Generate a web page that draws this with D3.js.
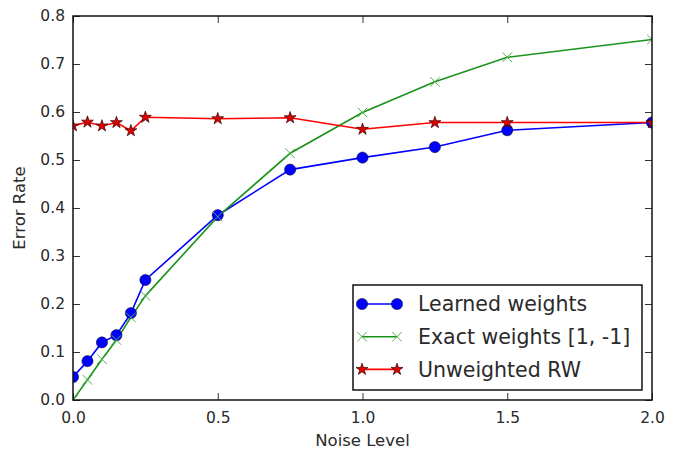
<!DOCTYPE html>
<html><head><meta charset="utf-8">
<script src="https://cdn.jsdelivr.net/npm/d3@7"></script>
<style>body{margin:0;background:#fff}svg{display:block}text{font-family:"DejaVu Sans",sans-serif;fill:#2a2a2a}</style>
</head><body><svg id="c" width="683" height="451"></svg>
<script>
const noise = [0, 0.05, 0.1, 0.15, 0.2, 0.25, 0.5, 0.75, 1.0, 1.25, 1.5, 2.0];
const learned = [0.048, 0.081, 0.120, 0.135, 0.181, 0.250, 0.385, 0.480, 0.505, 0.527, 0.562, 0.578];
const exact = [0.0, 0.042, 0.085, 0.125, 0.172, 0.217, 0.382, 0.514, 0.599, 0.663, 0.714, 0.751];
const unweighted = [0.571, 0.579, 0.571, 0.578, 0.561, 0.589, 0.586, 0.588, 0.564, 0.578, 0.578, 0.578];
const xTicks = [0, 0.5, 1.0, 1.5, 2.0];
const yTicks = [0, 0.1, 0.2, 0.3, 0.4, 0.5, 0.6, 0.7, 0.8];
const seriesNames = ["Learned weights", "Exact weights [1, -1]", "Unweighted RW"];

const L = 73, R = 652, T = 16, B = 400;
const svg = d3.select("#c");
const x = d3.scaleLinear().domain([0, 2]).range([L, R]);
const y = d3.scaleLinear().domain([0, 0.8]).range([B, T]);

svg.append("defs").append("clipPath").attr("id", "clip")
  .append("rect").attr("x", L).attr("y", T).attr("width", R - L).attr("height", B - T);

const series = [
  {name: seriesNames[0], vals: learned, color: "#0000ff", marker: "circle"},
  {name: seriesNames[1], vals: exact, color: "#1a921a", marker: "x"},
  {name: seriesNames[2], vals: unweighted, color: "#ff0000", marker: "star"}
];

function drawMarker(g, type, color) {
  if (type === "circle") {
    g.append("circle").attr("r", 5.6).attr("fill", color).attr("stroke", "#000").attr("stroke-width", 0.5);
  } else if (type === "x") {
    g.append("path").attr("d", "M-4.8,-4.8L4.8,4.8M-4.8,4.8L4.8,-4.8")
      .attr("stroke", "#4fb34f").attr("stroke-width", 1).attr("fill", "none");
  } else {
    g.append("path").attr("d", d3.symbol().type(d3.symbolStar).size(44)())
      .attr("fill", "#e00000").attr("stroke", "#300").attr("stroke-width", 0.7);
  }
}

const plot = svg.append("g").attr("clip-path", "url(#clip)");
const line = d3.line().x((d, i) => x(noise[i])).y(d => y(d));
series.forEach(s => {
  plot.append("path").datum(s.vals).attr("d", line).attr("fill", "none")
    .attr("stroke", s.color).attr("stroke-width", 1.6);
});
series.forEach(s => {
  s.vals.forEach((v, i) => {
    const g = plot.append("g").attr("transform", `translate(${x(noise[i])},${y(v)})`);
    drawMarker(g, s.marker, s.color);
  });
});

// axes (inward ticks on all sides)
const fmt = d3.format(".1f");
const tl = 7;
const ax = svg.append("g").attr("transform", `translate(0,${B})`)
  .call(d3.axisBottom(x).tickValues(xTicks).tickFormat(fmt).tickSizeInner(-tl).tickSizeOuter(0).tickPadding(12));
const axT = svg.append("g").attr("transform", `translate(0,${T})`)
  .call(d3.axisTop(x).tickValues(xTicks).tickFormat("").tickSizeInner(-tl).tickSizeOuter(0));
const ay = svg.append("g").attr("transform", `translate(${L},0)`)
  .call(d3.axisLeft(y).tickValues(yTicks).tickFormat(fmt).tickSizeInner(-tl).tickSizeOuter(0).tickPadding(8));
const ayR = svg.append("g").attr("transform", `translate(${R},0)`)
  .call(d3.axisRight(y).tickValues(yTicks).tickFormat("").tickSizeInner(-tl).tickSizeOuter(0));
[ax, axT, ay, ayR].forEach(a => {
  a.select(".domain").remove();
  a.selectAll("line").attr("stroke", "#333").attr("stroke-width", 1);
  a.selectAll("text").style("font-size", "15.5px").attr("fill", "#2a2a2a");
});
svg.append("rect").attr("x", L).attr("y", T).attr("width", R - L).attr("height", B - T)
  .attr("fill", "none").attr("stroke", "#111").attr("stroke-width", 1.5);

svg.append("text").attr("x", (L + R) / 2).attr("y", 446).attr("text-anchor", "middle")
  .style("font-size", "16.5px").text("Noise Level");
svg.append("text").attr("transform", `translate(25,${(T + B) / 2}) rotate(-90)`)
  .attr("text-anchor", "middle").style("font-size", "16.5px").text("Error Rate");

// legend
const lg = svg.append("g");
lg.append("rect").attr("x", 353).attr("y", 285).attr("width", 289).attr("height", 105)
  .attr("fill", "#fff").attr("stroke", "#111").attr("stroke-width", 1.5);
series.forEach((s, i) => {
  const cy = 304 + i * 32.7;
  lg.append("line").attr("x1", 362).attr("x2", 397).attr("y1", cy).attr("y2", cy)
    .attr("stroke", s.color).attr("stroke-width", 1.6);
  [362, 397].forEach(px => {
    const g = lg.append("g").attr("transform", `translate(${px},${cy})`);
    drawMarker(g, s.marker, s.color);
  });
  lg.append("text").attr("x", 418).attr("y", cy).attr("dy", "0.36em")
    .style("font-size", "20.5px").text(s.name);
});
</script></body></html>
